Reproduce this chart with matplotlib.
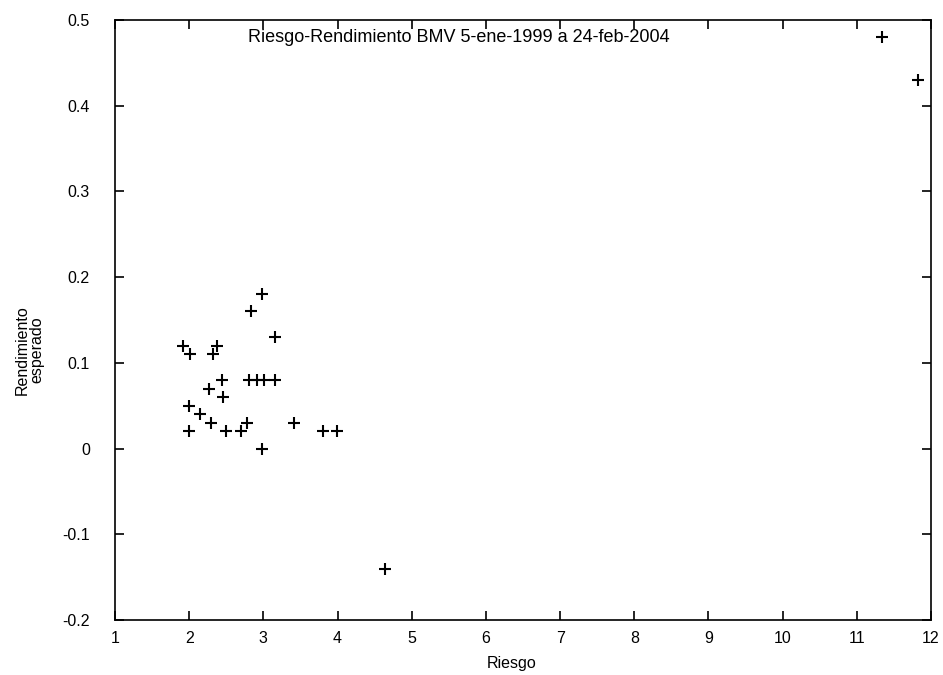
import matplotlib
matplotlib.use("Agg")
import matplotlib.pyplot as plt

plt.rcParams['font.family'] = ['Liberation Sans', 'DejaVu Sans']

riesgo = [2.98, 2.84, 3.16, 1.92, 2.01, 2.37, 2.32, 2.44, 2.81, 2.92, 3.01, 3.16,
          2.27, 2.46, 2.00, 2.14, 2.29, 2.78, 2.00, 2.49, 2.70, 3.41, 3.81, 3.99,
          2.98, 4.64, 11.34, 11.83]
rendimiento = [0.18, 0.16, 0.13, 0.12, 0.11, 0.12, 0.11, 0.08, 0.08, 0.08, 0.08, 0.08,
               0.07, 0.06, 0.05, 0.04, 0.03, 0.03, 0.02, 0.02, 0.02, 0.03, 0.02, 0.02,
               0.00, -0.14, 0.48, 0.43]
xticks = list(range(1, 13))
yticks = [-0.2, -0.1, 0, 0.1, 0.2, 0.3, 0.4, 0.5]
yticklabels = ['-0.2', '-0.1', '0', '0.1', '0.2', '0.3', '0.4', '0.5']
title = 'Riesgo-Rendimiento BMV 5-ene-1999 a 24-feb-2004'

fig = plt.figure(figsize=(9.43, 6.75), dpi=100)
ax = fig.add_axes([115/943, 1 - 620/675, 816/943, 600/675])
ax.plot(riesgo, rendimiento, linestyle='none', marker='+', color='black',
        markersize=8, markeredgewidth=1.5)
ax.set_xlim(1, 12)
ax.set_ylim(-0.2, 0.5)
ax.set_xticks(xticks)
ax.set_yticks(yticks)
ax.set_yticklabels(yticklabels)
ax.tick_params(direction='in', top=True, right=True, length=6.5, width=1.2,
               labelsize=11.5)
ax.tick_params(axis='y', pad=18)
ax.tick_params(axis='x', pad=8)
for s in ax.spines.values():
    s.set_linewidth(1.2)
ax.set_xlabel('Riesgo', fontsize=11.5)
ax.xaxis.set_label_coords((512 - 115) / 816, -(656 - 620) / 600)
ax.set_ylabel('Rendimiento\nesperado', fontsize=11.5, linespacing=0.95)
ax.yaxis.set_label_coords((44 - 115) / 816, (620 - 350) / 600)
ax.text((459 - 115) / 816, 1 - 18 / 600, title, transform=ax.transAxes,
        ha='center', va='center', fontsize=13)
fig.savefig('out.png', dpi=100)
